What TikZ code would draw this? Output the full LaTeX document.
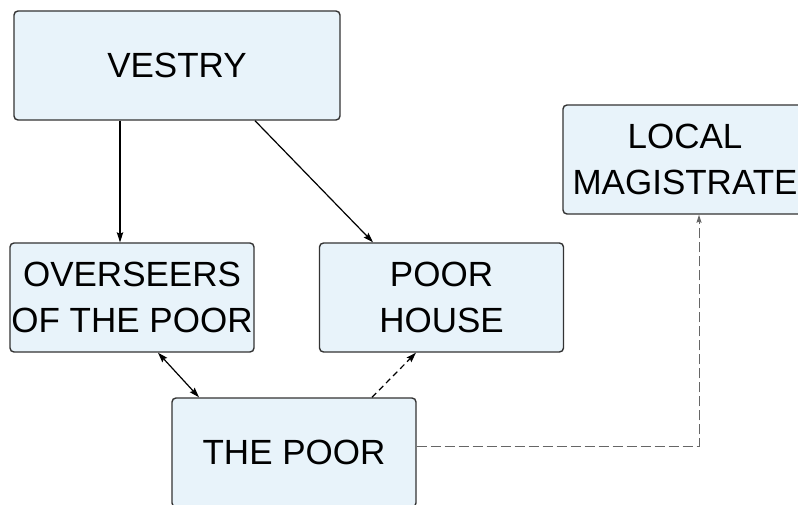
\documentclass[tikz,border=0pt]{standalone}
\usepackage{fontspec}
\setmainfont{Liberation Sans}
\usetikzlibrary{arrows.meta}
\definecolor{boxfill}{HTML}{E8F3FA}
\definecolor{boxline}{HTML}{333333}
\begin{document}
\begin{tikzpicture}[x=1pt,y=-1pt,->,>={Stealth[length=10pt,width=6.5pt,inset=1.5pt]},line width=1.2pt,
    block/.style={draw=boxline,fill=boxfill,line width=1.4pt,rounded corners=4pt,
      minimum width=244pt,minimum height=109pt,align=center,inner sep=0pt,
      font=\fontsize{35}{46}\selectfont}]
  \useasboundingbox (0,0) rectangle (798,505);
  \node[block, minimum width=326pt] (vestry) at (177,65.5) {VESTRY};
  \node[block] (overseers) at (132,297.5) {OVERSEERS\\OF THE POOR};
  \node[block] (poorhouse) at (441.5,297.5) {POOR\\HOUSE};
  \node[block] (magistrate) at (685,159.5) {LOCAL\\MAGISTRATE};
  \node[block] (thepoor) at (294,452.5) {THE POOR};
  \draw ([xshift=-57pt]vestry.south) -- ([xshift=-12pt]overseers.north);
  \draw ([xshift=78pt]vestry.south) -- ([xshift=-68.5pt]poorhouse.north);
  \draw[<->] ([xshift=26pt]overseers.south) -- ([xshift=-95pt]thepoor.north);
  \draw[dash pattern=on 6pt off 4pt] ([xshift=78pt]thepoor.north) -- ([xshift=-25.5pt]poorhouse.south);
  \draw[draw=black!60, line width=1pt, dash pattern=on 10pt off 4pt,
      >={Stealth[length=8pt,width=5pt,inset=1pt]}]
    ([yshift=6.5pt]thepoor.east) -| ([xshift=14pt]magistrate.south);
\end{tikzpicture}
\end{document}
